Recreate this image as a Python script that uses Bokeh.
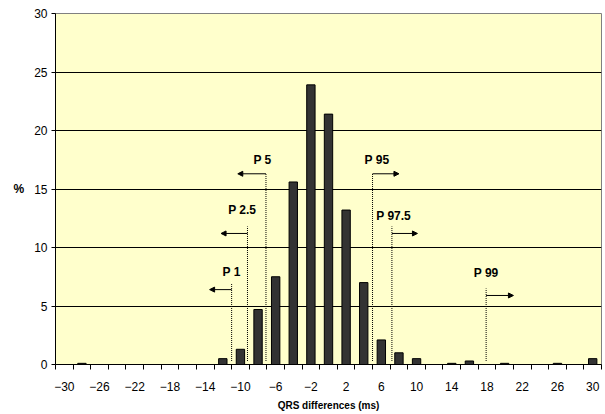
from bokeh.plotting import figure
from bokeh.models import FixedTicker, ColumnDataSource, Arrow, NormalHead, Range1d
from bokeh.embed import file_html
from bokeh.resources import INLINE
from bokeh.core.properties import value

# QRS difference categories (ms) and percentage of cases
diff_ms = list(range(-30, 31, 2))
percent = [0, 0.1, 0, 0, 0, 0, 0, 0, 0,
           0.5, 1.3, 4.7, 7.5, 15.6, 23.9, 21.4, 13.2, 7.0, 2.1, 1.0, 0.5,
           0, 0.1, 0.3, 0, 0.1, 0, 0, 0.1, 0, 0.5]

x_tick_labels = list(range(-30, 31, 4))
y_ticks = [0, 5, 10, 15, 20, 25, 30]

# percentile markers
pct_names = ["P 1", "P 2.5", "P 5", "P 95", "P 97.5", "P 99"]
pct_x = [-11.0, -9.2, -7.1, 5.0, 7.2, 17.9]
pct_top = [6.95, 11.8, 16.3, 16.3, 11.8, 6.5]
pct_arrow_y = [6.4, 11.2, 16.3, 16.3, 11.2, 5.9]
pct_arrow_end = [-13.5, -12.2, -10.3, 8.0, 10.1, 21.0]
pct_label_x = [-11.0, -9.8, -7.5, 5.5, 7.4, 17.9]
pct_label_y = [7.9, 13.2, 17.5, 17.5, 12.7, 7.8]

FONT = "Liberation Sans"

p = figure(width=605, height=414,
           x_range=Range1d(-31, 31), y_range=Range1d(0, 30),
           output_backend="svg", toolbar_location=None,
           min_border_left=55, min_border_right=4,
           min_border_top=13, min_border_bottom=50)
p.background_fill_color = "#FFFFCC"
p.border_fill_color = "white"
p.outline_line_color = "#808080"
p.outline_line_width = 1

# bars
p.vbar(x=diff_ms, top=percent, width=0.95,
       fill_color="#333333", line_color="black", line_width=1)

# grid
p.xgrid.visible = False
p.ygrid.ticker = FixedTicker(ticks=[5, 10, 15, 20, 25])
p.ygrid.grid_line_color = "black"
p.ygrid.grid_line_width = 1

# y axis
p.yaxis.ticker = FixedTicker(ticks=y_ticks)
p.yaxis.minor_tick_line_color = None
p.yaxis.major_tick_out = 4
p.yaxis.major_tick_in = 0
p.yaxis.major_label_standoff = 4
p.yaxis.axis_line_color = "black"
p.yaxis.major_tick_line_color = "black"
p.yaxis.major_label_text_font = FONT
p.yaxis.major_label_text_font_size = "12px"
p.yaxis.major_label_text_color = "black"
p.yaxis.axis_label = "%"
p.yaxis.axis_label_orientation = "horizontal"
p.yaxis.axis_label_text_font = FONT
p.yaxis.axis_label_text_font_size = "12px"
p.yaxis.axis_label_text_font_style = "bold"
p.yaxis.axis_label_text_color = "black"
p.yaxis.axis_label_standoff = 7

# x axis
odd_bounds = list(range(-31, 32, 2))
p.xaxis.ticker = FixedTicker(ticks=x_tick_labels, minor_ticks=odd_bounds)
p.xaxis.major_tick_out = 0
p.xaxis.major_tick_in = 0
p.xaxis.minor_tick_out = 5
p.xaxis.minor_tick_in = 0
p.xaxis.minor_tick_line_color = "black"
p.xaxis.axis_line_color = "black"
p.xaxis.major_label_standoff = 12
p.xaxis.major_label_text_font = FONT
p.xaxis.major_label_text_font_size = "12px"
p.xaxis.major_label_text_color = "black"
p.xaxis.axis_label = "QRS differences (ms)"
p.xaxis.axis_label_text_font = FONT
p.xaxis.axis_label_text_font_size = "10px"
p.xaxis.axis_label_text_font_style = "bold"
p.xaxis.axis_label_text_color = "black"
p.xaxis.axis_label_standoff = 6

# percentile dotted lines
p.segment(x0=pct_x, y0=[0.3] * len(pct_x), x1=pct_x, y1=pct_top,
          line_color="black", line_width=1, line_dash="1 1")

# arrows
arrow_src = ColumnDataSource(data=dict(x0=pct_x, x1=pct_arrow_end, y=pct_arrow_y))
p.add_layout(Arrow(end=NormalHead(size=5, fill_color="black", line_color="black"),
                   x_start="x0", y_start="y", x_end="x1", y_end="y",
                   source=arrow_src, line_color="black", line_width=1))

# labels
p.text(x=pct_label_x, y=pct_label_y, text=pct_names,
       text_font=value(FONT), text_font_style="bold", text_font_size="12px",
       text_align="center", text_baseline="middle", text_color="black")

open("out.html", "w").write(file_html(p, INLINE))
